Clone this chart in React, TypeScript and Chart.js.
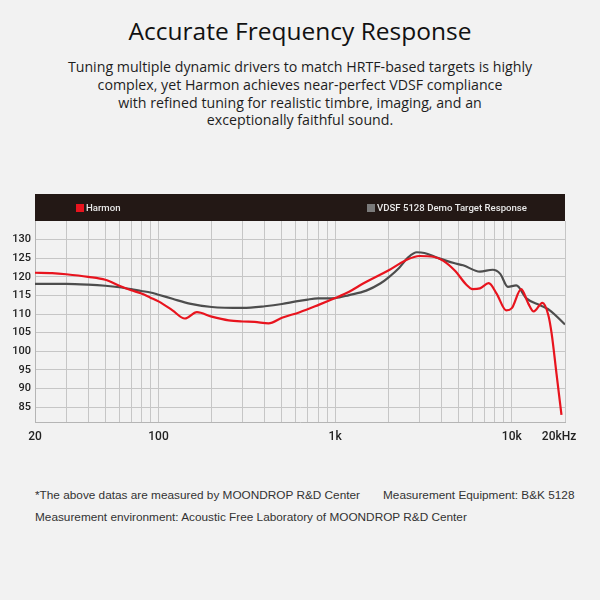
import React, { useEffect, useRef } from 'react';
import { Chart, registerables } from 'chart.js';

Chart.register(...registerables);

// ---- data ----
const harmonFreq = [20, 25, 30, 40, 50, 60, 70, 80, 90, 100, 120, 141, 165, 200, 250, 300, 350, 420, 500, 630, 800, 1000, 1200, 1440, 2000, 2500, 3000, 3600, 4100, 4800, 5500, 6000, 6600, 7400, 8200, 9300, 10000, 11300, 12400, 13300, 14900, 16100, 16800, 17900, 19100];
const harmonDb = [121.1, 121.0, 120.7, 120.0, 119.2, 117.6, 116.4, 115.5, 114.4, 113.4, 111.0, 108.8, 110.5, 109.3, 108.3, 108.0, 107.9, 107.5, 109.0, 110.5, 112.4, 114.3, 116.0, 118.2, 121.7, 124.4, 125.6, 125.4, 124.3, 121.5, 118.0, 116.7, 116.9, 118.3, 115.5, 111.0, 111.6, 116.7, 112.8, 110.7, 113.0, 109.7, 104.8, 94.0, 82.9];

const targetFreq = [20, 30, 40, 50, 60, 70, 80, 90, 100, 120, 150, 200, 300, 400, 500, 600, 700, 800, 1000, 1200, 1500, 1800, 2000, 2300, 2600, 2900, 3200, 3800, 4700, 5300, 6600, 7800, 8600, 9500, 10600, 12100, 14400, 16400, 20000];
const targetDb = [118.1, 118.1, 117.9, 117.6, 117.2, 116.7, 116.2, 115.8, 115.2, 114.1, 112.8, 111.9, 111.65, 112.1, 112.7, 113.4, 113.9, 114.2, 114.3, 115.1, 116.3, 118.2, 119.8, 122.4, 125.3, 126.6, 126.4, 125.1, 123.7, 123.1, 121.4, 121.9, 120.8, 117.3, 117.7, 114.2, 112.4, 111.0, 107.2];

const seriesLabels = ['Harmon', 'VDSF 5128 Demo Target Response'];
const xLabelValues = [20, 100, 1000, 10000, 20000];
const xLabelTexts = ['20', '100', '1k', '10k', '20kHz    '];
const yTickValues = [85, 90, 95, 100, 105, 110, 115, 120, 125, 130];
const xGridValues: number[] = [];
for (const d of [10, 100, 1000, 10000]) {
  for (let m = 1; m <= 9; m++) {
    const v = m * d;
    if (v >= 20 && v <= 20000) xGridValues.push(v);
  }
}

const headerPlugin = {
  id: 'headerBar',
  afterDraw(chart: any) {
    const { ctx, chartArea } = chart;
    ctx.save();
    ctx.fillStyle = '#231815';
    ctx.fillRect(chartArea.left, 4, chartArea.right - chartArea.left, chartArea.top - 4);
    ctx.font = '500 9.6px Roboto';
    ctx.textBaseline = 'middle';
    ctx.textAlign = 'left';
    const ds = chart.data.datasets;
    const xs = [76, 367];
    ds.forEach((d: any, i: number) => {
      const x = xs[i];
      ctx.fillStyle = d.legendColor;
      ctx.fillRect(x, 14, 8, 8);
      ctx.fillStyle = '#e9e9e9';
      ctx.fillText(d.label, x + 10, 18.5);
    });
    ctx.restore();
  },
};

function FRChart() {
  const ref = useRef<HTMLCanvasElement>(null);
  useEffect(() => {
    const chart = new Chart(ref.current!, {
      type: 'line',
      data: {
        datasets: [
          {
            label: seriesLabels[0],
            data: harmonFreq.map((f, i) => ({ x: f, y: harmonDb[i] })),
            borderColor: '#e8141e',
            legendColor: '#e8141e',
            borderWidth: 2.2,
            pointRadius: 0,
            cubicInterpolationMode: 'monotone',
          } as any,
          {
            label: seriesLabels[1],
            data: targetFreq.map((f, i) => ({ x: f, y: targetDb[i] })),
            borderColor: '#4d4d4d',
            legendColor: '#7a7a7a',
            borderWidth: 2.2,
            pointRadius: 0,
            cubicInterpolationMode: 'monotone',
          } as any,
        ],
      },
      options: {
        animation: false,
        responsive: true,
        maintainAspectRatio: false,
        layout: { padding: { top: 31, right: 35, left: 0, bottom: 0 } },
        plugins: { legend: { display: false }, tooltip: { enabled: false } },
        scales: {
          x: {
            type: 'logarithmic',
            min: 20,
            max: 20000,
            afterBuildTicks: (s: any) => {
              s.ticks = xGridValues.map((v) => ({ value: v }));
            },
            afterFit: (s: any) => {
              s.height = 28;
            },
            grid: { color: '#c6c6c6', lineWidth: 1, drawTicks: false },
            border: { color: '#b5b5b5' },
            ticks: {
              autoSkip: false,
              maxRotation: 0,
              padding: 8,
              color: '#222',
              font: { family: 'Roboto', size: 12, weight: '500' },
              callback: (v: any) => {
                const i = xLabelValues.indexOf(Math.round(Number(v)));
                return i >= 0 ? xLabelTexts[i] : '';
              },
            },
          },
          y: {
            min: 81,
            max: 135,
            afterBuildTicks: (s: any) => {
              s.ticks = yTickValues.map((v) => ({ value: v }));
            },
            afterFit: (s: any) => {
              s.width = 35;
            },
            grid: { color: '#c6c6c6', lineWidth: 1, drawTicks: false },
            border: { color: '#b5b5b5' },
            ticks: {
              padding: 4,
              color: '#222',
              font: { family: 'Roboto', size: 11, weight: '500' },
            },
          },
        },
      },
      plugins: [headerPlugin],
    });
    return () => chart.destroy();
  }, []);
  return <canvas ref={ref} />;
}

const noteFont = '400 11.8px "Liberation Sans"';

export default function App() {
  return (
    <div style={{ position: 'fixed', left: 0, top: 0, width: 600, height: 600, background: '#f2f2f2', overflow: 'hidden' }}>
      <div style={{ position: 'absolute', top: 14, left: 0, width: 600, textAlign: 'center', font: '500 24.5px "Open Sans"', color: '#111' }}>
        Accurate Frequency Response
      </div>
      <div style={{ position: 'absolute', top: 58, left: 0, width: 600, textAlign: 'center', font: '400 14.2px/17.8px "Open Sans"', color: '#1e1e1e' }}>
        Tuning multiple dynamic drivers to match HRTF-based targets is highly
        <br />
        complex, yet Harmon achieves near-perfect VDSF compliance
        <br />
        with refined tuning for realistic timbre, imaging, and an
        <br />
        exceptionally faithful sound.
      </div>
      <div style={{ position: 'absolute', top: 190, left: 0, width: 600, height: 260 }}>
        <FRChart />
      </div>
      <div style={{ position: 'absolute', top: 488, left: 35, font: noteFont, color: '#333', whiteSpace: 'nowrap' }}>
        *The above datas are measured by MOONDROP R&amp;D Center
      </div>
      <div style={{ position: 'absolute', top: 488, left: 383, font: noteFont, color: '#333', whiteSpace: 'nowrap' }}>
        Measurement Equipment: B&amp;K 5128
      </div>
      <div style={{ position: 'absolute', top: 510, left: 35, font: noteFont, color: '#333', whiteSpace: 'nowrap' }}>
        Measurement environment: Acoustic Free Laboratory of MOONDROP R&amp;D Center
      </div>
    </div>
  );
}
